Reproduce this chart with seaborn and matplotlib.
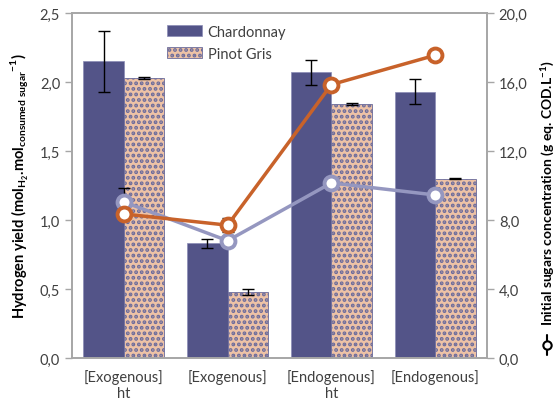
import numpy as np
import pandas as pd
import matplotlib
matplotlib.use("Agg")
import matplotlib.pyplot as plt
import seaborn as sns
from matplotlib.lines import Line2D
from matplotlib.patches import Patch
from matplotlib.ticker import FuncFormatter

categories = ["[Exogenous]\nht", "[Exogenous]", "[Endogenous]\nht", "[Endogenous]"]
varieties = ["Chardonnay", "Pinot Gris"]

chardonnay_yield = [2.15, 0.83, 2.07, 1.93]
chardonnay_err = [0.22, 0.03, 0.09, 0.09]
pinot_yield = [2.03, 0.48, 1.84, 1.30]
pinot_err = [0.005, 0.02, 0.005, 0.005]

sugar_orange = [8.35, 7.7, 15.85, 17.55]
sugar_orange_err = [0.0, 0.4, 0.0, 0.0]
sugar_blue = [9.05, 6.8, 10.15, 9.45]
sugar_blue_err = [0.8, 0.0, 0.3, 0.0]

purple = "#535488"
peach = "#EDC2A6"
hatch_col = "#6A6B9C"
orange = "#C8622A"
lavender = "#9597C0"
spine_gray = "#A6A6A6"
text_col = "#404040"

sns.set_style("white")
plt.rcParams["font.family"] = ["Lato", "DejaVu Sans"]
plt.rcParams["hatch.linewidth"] = 1.9

df = pd.DataFrame({
    "cat": categories * 2,
    "variety": [varieties[0]] * 4 + [varieties[1]] * 4,
    "yield": chardonnay_yield + pinot_yield,
})

fig = plt.figure(figsize=(5.58, 4.14), dpi=100)
ax = fig.add_axes([72 / 558, 55 / 414, 415 / 558, 345 / 414])

sns.barplot(data=df, x="cat", y="yield", hue="variety", order=categories,
            hue_order=varieties, palette=[purple, peach], width=0.78,
            errorbar=None, ax=ax, saturation=1, legend=False)

errs = chardonnay_err + pinot_err
for i, p in enumerate(ax.patches[:8]):
    if i >= 4:
        p.set_hatch("...")
        p.set_edgecolor(hatch_col)
        p.set_linewidth(0.6)
    else:
        p.set_edgecolor("#8A8BB5")
        p.set_linewidth(0.5)
    cx = p.get_x() + p.get_width() / 2
    ax.errorbar(cx, p.get_height(), yerr=errs[i], fmt="none", ecolor="black",
                elinewidth=1.0, capsize=4, capthick=1.0, zorder=5)

ax.set_ylim(0, 2.5)
ax.set_yticks(np.arange(0, 2.51, 0.5))
ax.set_xlim(-0.5, 3.5)
ax.set_xlabel("")
ax.set_ylabel("Hydrogen yield (mol$_{\\mathregular{H_2}}$.mol$_{\\mathregular{consumed\\ sugar}}$$^{\\mathregular{-1}}$)",
              fontsize=10.5, fontweight="bold", color="black", labelpad=6)
comma = FuncFormatter(lambda v, _: f"{v:.1f}".replace(".", ","))
ax.yaxis.set_major_formatter(comma)
ax.set_xticks(range(4))
ax.set_xticklabels(categories, fontsize=10.5, color=text_col)
ax.set_xticks(np.arange(-0.5, 3.6, 1), minor=True)
ax.tick_params(axis="x", which="major", length=0, pad=8)
ax.tick_params(axis="x", which="minor", length=5, color=spine_gray, width=1)
ax.tick_params(axis="y", length=5, color=spine_gray, width=1, labelsize=10.5,
               labelcolor=text_col, direction="out", left=True)
for s in ax.spines.values():
    s.set_color(spine_gray)
    s.set_linewidth(1.2)

handles = [Patch(facecolor=purple, edgecolor="#8A8BB5", linewidth=0.5, label=varieties[0]),
           Patch(facecolor=peach, edgecolor=hatch_col, hatch="...", linewidth=0.6, label=varieties[1])]
leg = ax.legend(handles=handles, loc="upper left", bbox_to_anchor=(0.2, 1.0),
                frameon=False, fontsize=10.5, handlelength=2.4, handleheight=0.8,
                labelspacing=0.55, borderaxespad=0.4, handletextpad=0.4)
for t in leg.get_texts():
    t.set_color(text_col)

ax2 = ax.twinx()
xs = np.arange(4)
for vals, err, col in [(sugar_blue, sugar_blue_err, lavender),
                       (sugar_orange, sugar_orange_err, orange)]:
    ax2.errorbar(xs, vals, yerr=err, fmt="none", ecolor="black",
                 elinewidth=1.0, capsize=4, capthick=1.0, zorder=2)
    ax2.plot(xs, vals, color=col, lw=2.5, marker="o", ms=10, mfc="white",
             mec=col, mew=2.8, zorder=3)
ax2.set_ylim(0, 20)
ax2.set_yticks(np.arange(0, 20.1, 4))
ax2.yaxis.set_major_formatter(comma)
ax2.tick_params(axis="y", length=5, color=spine_gray, width=1, labelsize=10.5,
                labelcolor=text_col, direction="out", right=True)
for s in ax2.spines.values():
    s.set_color(spine_gray)
    s.set_linewidth(1.2)
ax2.grid(False)

fig.text(547 / 558, 1 - 193 / 414,
         "Initial sugars concentration (g eq. COD.L$^{\\mathregular{-1}}$)",
         rotation=90, ha="center", va="center", fontsize=10,
         fontweight="bold", color="black")
fig.add_artist(Line2D([547 / 558, 547 / 558], [1 - 336 / 414, 1 - 356 / 414],
                      transform=fig.transFigure, color="black", lw=1.5))
fig.add_artist(Line2D([547 / 558], [1 - 346 / 414], transform=fig.transFigure,
                      marker="o", ms=6, mfc="white", mec="black", mew=1.5))

fig.savefig("out.png", dpi=100)
